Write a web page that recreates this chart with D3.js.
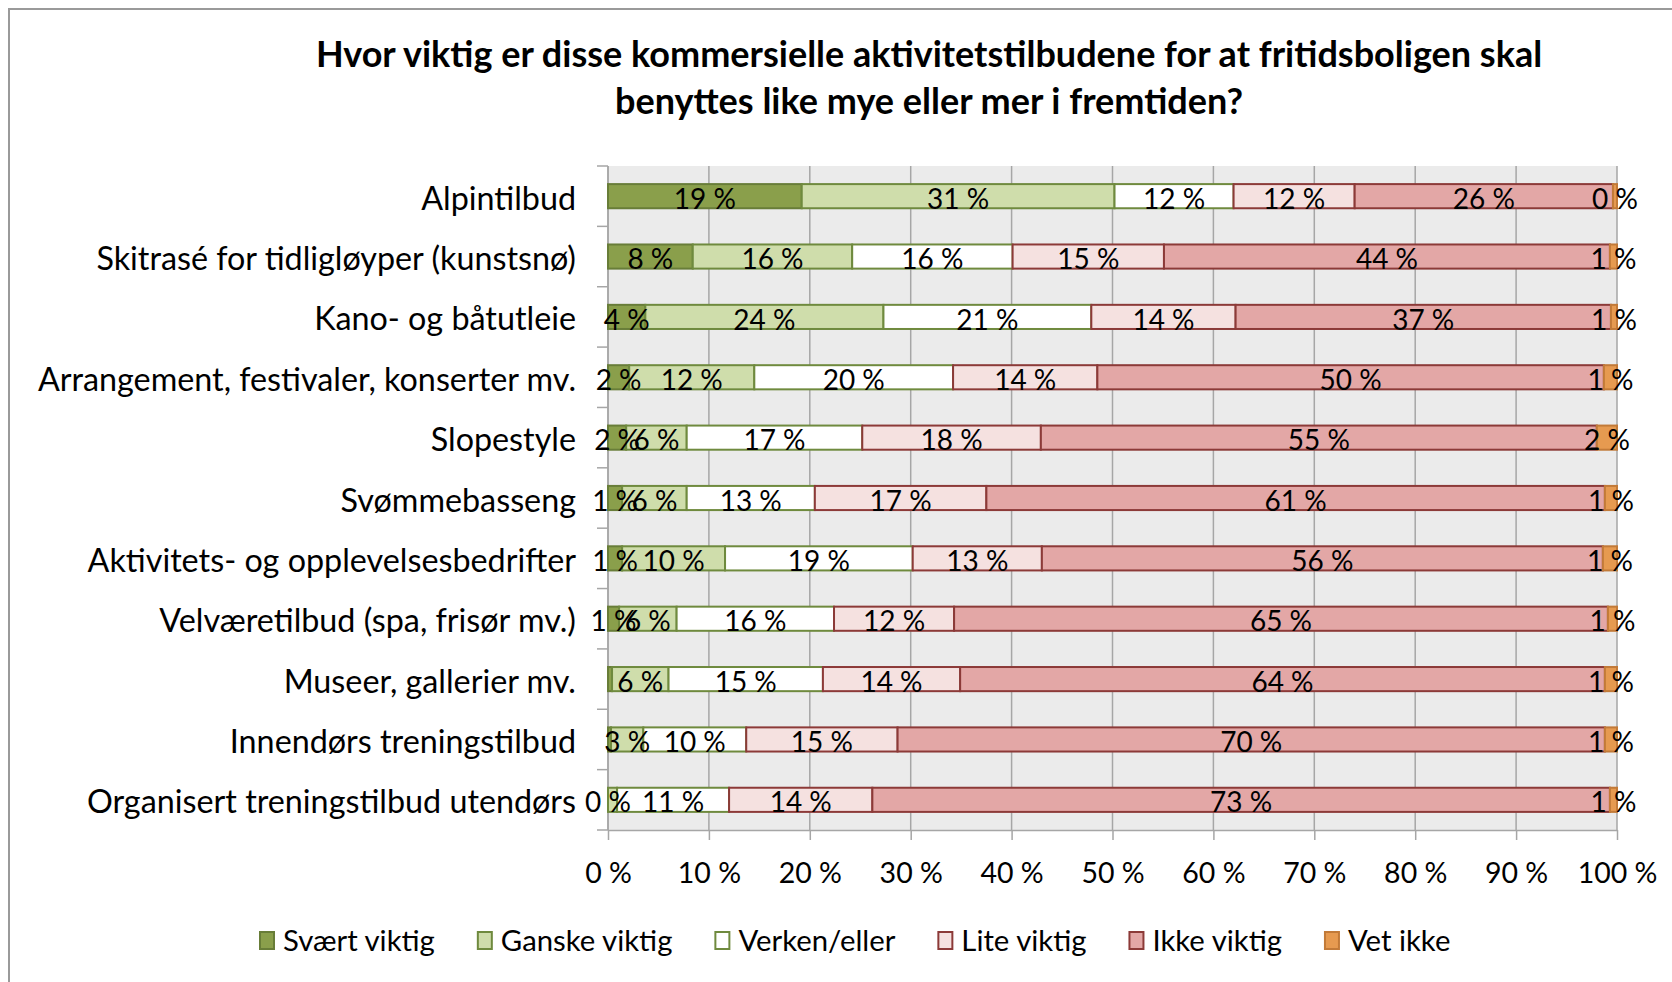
<!DOCTYPE html>
<html>
<head>
<meta charset="utf-8">
<script src="https://cdn.jsdelivr.net/npm/d3@7"></script>
<style>
  body { margin: 0; background: #fff; }
  svg { display: block; font-family: Lato, "Open Sans", sans-serif; }
</style>
</head>
<body>
<div id="chart"></div>
<script>
// Categories (top to bottom)
const categories = [
  "Alpintilbud",
  "Skitrasé for tidligløyper (kunstsnø)",
  "Kano- og båtutleie",
  "Arrangement, festivaler, konserter mv.",
  "Slopestyle",
  "Svømmebasseng",
  "Aktivitets- og opplevelsesbedrifter",
  "Velværetilbud (spa, frisør mv.)",
  "Museer, gallerier mv.",
  "Innendørs treningstilbud",
  "Organisert treningstilbud utendørs"
];

// Series values (percent)
const svaertViktig  = [19.2, 8.4, 3.7, 2.1, 1.8, 1.4, 1.4, 1.1, 0.4, 0.3, 0];
const ganskeViktig  = [31.0, 15.8, 23.6, 12.4, 6.0, 6.4, 10.2, 5.7, 5.6, 3.2, 0.9];
const verkenEller   = [11.8, 15.9, 20.6, 19.7, 17.4, 12.7, 18.6, 15.6, 15.3, 10.2, 11.1];
const liteViktig    = [12.0, 15.0, 14.3, 14.3, 17.7, 17.0, 12.8, 11.9, 13.6, 15.0, 14.2];
const ikkeViktig    = [25.6, 44.2, 37.2, 50.2, 55.1, 61.3, 55.6, 64.8, 63.9, 70.1, 73.1];
const vetIkke       = [0.4, 0.7, 0.6, 1.3, 2.0, 1.2, 1.4, 0.9, 1.2, 1.2, 0.7];

const seriesNames = ["Svært viktig", "Ganske viktig", "Verken/eller", "Lite viktig", "Ikke viktig", "Vet ikke"];
const seriesValues = [svaertViktig, ganskeViktig, verkenEller, liteViktig, ikkeViktig, vetIkke];

// Data labels not shown in the original [category index, series index]
const hiddenLabels = [[8, 0], [9, 0], [10, 1]];

const xTicks = [0, 10, 20, 30, 40, 50, 60, 70, 80, 90, 100];

const fills   = ["#8a9f4b", "#cfddab", "#ffffff", "#f5e1e0", "#e3a7a6", "#e69a50"];
const strokes = ["#687d38", "#6f8a3e", "#6f8a3e", "#8c3a38", "#8c3a38", "#c27a38"];

const W = 1672, H = 982;
const plot = {left: 608, right: 1617, top: 166, bottom: 830};

const svg = d3.select("#chart").append("svg")
    .attr("width", W)
    .attr("height", H);

// chart border
svg.append("rect")
    .attr("x", 9).attr("y", 9)
    .attr("width", W + 20).attr("height", H + 20)
    .attr("fill", "#fff")
    .attr("stroke", "#9a9a9a")
    .attr("stroke-width", 2);

// Title
const title = svg.append("text")
    .attr("text-anchor", "middle")
    .attr("font-weight", "bold")
    .attr("font-size", 36)
    .attr("fill", "#000");
title.append("tspan").attr("x", 929).attr("y", 67)
    .text("Hvor viktig er disse kommersielle aktivitetstilbudene for at fritidsboligen skal");
title.append("tspan").attr("x", 929).attr("y", 114)
    .text("benyttes like mye eller mer i fremtiden?");

// Scales
const x = d3.scaleLinear().domain([0, 100]).range([plot.left, plot.right]);
const y = d3.scaleBand().domain(categories).range([plot.top, plot.bottom])
    .paddingInner(0.6).paddingOuter(0.3);

// Plot background
svg.append("rect")
    .attr("x", plot.left).attr("y", plot.top)
    .attr("width", plot.right - plot.left).attr("height", plot.bottom - plot.top)
    .attr("fill", "#ebebeb");

// Vertical gridlines
svg.append("g").selectAll("line")
    .data(xTicks)
  .enter().append("line")
    .attr("x1", d => x(d)).attr("x2", d => x(d))
    .attr("y1", plot.top).attr("y2", plot.bottom)
    .attr("stroke", "#a6a6a6")
    .attr("stroke-width", 1.5);

// X axis
const xAxis = svg.append("g")
    .attr("transform", "translate(0," + plot.bottom + ")")
    .call(d3.axisBottom(x).tickValues(xTicks).tickFormat(d => d + " %").tickSize(10).tickSizeOuter(0));
xAxis.select(".domain").attr("stroke", "#a6a6a6").attr("stroke-width", 1.5);
xAxis.selectAll(".tick line").attr("stroke", "#a6a6a6").attr("stroke-width", 1.5);
xAxis.selectAll(".tick text")
    .attr("font-family", "Lato, sans-serif")
    .attr("font-size", 28.5)
    .attr("fill", "#000")
    .attr("dy", 0)
    .attr("y", 53);

// Y axis line and ticks at band boundaries
svg.append("line")
    .attr("x1", plot.left).attr("x2", plot.left)
    .attr("y1", plot.top).attr("y2", plot.bottom)
    .attr("stroke", "#a6a6a6").attr("stroke-width", 1.5);
const boundaries = d3.range(categories.length + 1).map(i => plot.top + i * y.step());
svg.append("g").selectAll("line")
    .data(boundaries)
  .enter().append("line")
    .attr("x1", plot.left - 11).attr("x2", plot.left)
    .attr("y1", d => d).attr("y2", d => d)
    .attr("stroke", "#a6a6a6").attr("stroke-width", 1.5);

// Category labels
svg.append("g").selectAll("text")
    .data(categories)
  .enter().append("text")
    .attr("x", 576)
    .attr("y", d => y(d) + y.bandwidth() / 2)
    .attr("dy", "0.42em")
    .attr("text-anchor", "end")
    .attr("font-size", 32.3)
    .attr("fill", "#000")
    .text(d => d);

// Stacked data
const rows = categories.map((c, i) => {
  const r = {category: c, index: i};
  seriesNames.forEach((s, j) => { r[s] = seriesValues[j][i]; });
  return r;
});
const stacked = d3.stack().keys(seriesNames)(rows);

// Bars
stacked.forEach((layer, j) => {
  svg.append("g").selectAll("rect")
      .data(layer)
    .enter().append("rect")
      .attr("x", d => x(d[0]))
      .attr("y", d => y(d.data.category))
      .attr("width", d => x(d[1]) - x(d[0]))
      .attr("height", y.bandwidth())
      .attr("fill", fills[j])
      .attr("stroke", strokes[j])
      .attr("stroke-width", 2);
});

// Data labels
const isHidden = (i, j) => hiddenLabels.some(h => h[0] === i && h[1] === j);
stacked.forEach((layer, j) => {
  svg.append("g").selectAll("text")
      .data(layer.filter(d => !isHidden(d.data.index, j)))
    .enter().append("text")
      .attr("x", d => x((d[0] + d[1]) / 2))
      .attr("y", d => y(d.data.category) + y.bandwidth() / 2)
      .attr("dy", "0.45em")
      .attr("text-anchor", "middle")
      .attr("font-size", 28)
      .attr("fill", "#000")
      .text(d => Math.round(d[1] - d[0]) + " %");
});

// Legend
const legend = svg.append("g").attr("transform", "translate(259,940)");
let lx = 0;
seriesNames.forEach((s, j) => {
  const item = legend.append("g").attr("transform", "translate(" + lx + ",0)");
  item.append("rect")
      .attr("x", 1).attr("y", -8)
      .attr("width", 14).attr("height", 17)
      .attr("fill", fills[j])
      .attr("stroke", strokes[j])
      .attr("stroke-width", 2);
  const t = item.append("text")
      .attr("x", 24)
      .attr("y", 0)
      .attr("dy", "0.38em")
      .attr("font-size", 29.3)
      .attr("fill", "#000")
      .text(s);
  lx += 24 + t.node().getComputedTextLength() + 42;
});
</script>
</body>
</html>
